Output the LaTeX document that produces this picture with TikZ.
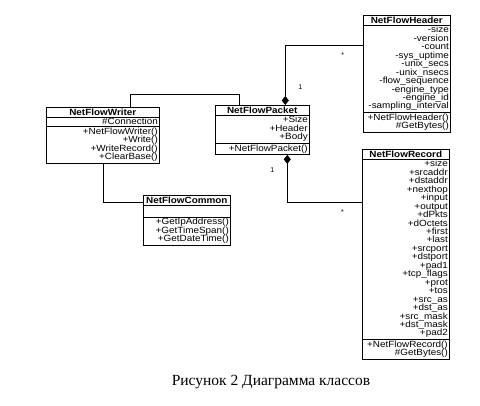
\documentclass[tikz,border=0pt]{standalone}
\usepackage{fontspec}
\setmainfont{Liberation Serif}
\setsansfont{Liberation Sans}
\newfontfamily\classsans[FakeStretch=1.1]{Liberation Sans}
\usetikzlibrary{arrows.meta,shapes.multipart}
\def\classfont{\classsans\fontsize{9}{8.45}\selectfont\lineskiplimit-5pt\relax}
\def\ctitle#1{\hbox to \hsize{\hfil\bfseries #1\hfil}}
\tikzset{
	umlclass/.style={draw, rectangle split, rectangle split parts=3, anchor=north west,
		inner xsep=1.5pt, inner ysep=1.2pt, align=right, line width=0.6pt,
		font=\classfont},
	assoc/.style={line width=0.6pt},
	comp/.style={{Diamond[length=9pt,width=7pt]}-, line width=0.6pt},
	mult/.style={font=\sffamily\fontsize{7}{8}\selectfont, inner sep=0pt}
}

\begin{document}
\begin{tikzpicture}[x=1pt,y=-1pt]
			%%%%% START %%%%%
			\useasboundingbox (0,0) rectangle (480,406);
			
			\node[umlclass, text width=84pt] (hdr) at (363,15) {\ctitle{NetFlowHeader}
				\nodepart{second}-size\\-version\\-count\\-sys\_uptime\\-unix\_secs\\-unix\_nsecs\\-flow\_sequence\\-engine\_type\\-engine\_id\\-sampling\_interval
				\nodepart{third}+NetFlowHeader()\\\#GetBytes()};
			
			\node[umlclass, text width=110pt] (wrt) at (46,107) {\ctitle{NetFlowWriter}
				\nodepart{second}\#Connection
				\nodepart{third}+NetFlowWriter()\\+Write()\\+WriteRecord()\\+ClearBase()};
			
			\node[umlclass, text width=91pt] (pkt) at (215,105) {\ctitle{NetFlowPacket}
				\nodepart{second}+Size\\+Header\\+Body
				\nodepart{third}+NetFlowPacket()};
			
			\node[umlclass, text width=84pt] (rec) at (362,149) {\ctitle{NetFlowRecord}
				\nodepart{second}+size\\+srcaddr\\+dstaddr\\+nexthop\\+input\\+output\\+dPkts\\+dOctets\\+first\\+last\\+srcport\\+dstport\\+pad1\\+tcp\_flags\\+prot\\+tos\\+src\_as\\+dst\_as\\+src\_mask\\+dst\_mask\\+pad2
				\nodepart{third}+NetFlowRecord()\\\#GetBytes()};
			
			\node[umlclass, text width=84pt] (cmn) at (143,195) {\ctitle{NetFlowCommon}
				\nodepart{second}\rule{0pt}{9pt}
				\nodepart{third}+GetIpAddress()\\+GetTimeSpan()\\+GetDateTime()};
			
			% links
			\draw[comp] ([xshift=23pt]pkt.north) |- ([yshift=-30pt]hdr.north west)
				node[mult, pos=0.15, xshift=15pt] {1}
				node[mult, pos=0.87, yshift=-10pt] {*};
			\draw[assoc] ([xshift=27.5pt]wrt.north) -- ++(0,-13) -| ([xshift=-23pt]pkt.north);
			\draw[comp] ([xshift=25pt]pkt.south) |- ([yshift=-53pt]rec.north west)
				node[mult, pos=0.16, xshift=-15pt] {1}
				node[mult, pos=0.87, yshift=-10pt] {*};
			\draw[assoc] (wrt.south) |- ([yshift=-7pt]cmn.north west);
			
			\node[font=\fontsize{15.5}{17}\selectfont] (cap) at (271,382) {Рисунок 2 Диаграмма классов};
			
			%%%%% END %%%%%
\end{tikzpicture}
\end{document}
